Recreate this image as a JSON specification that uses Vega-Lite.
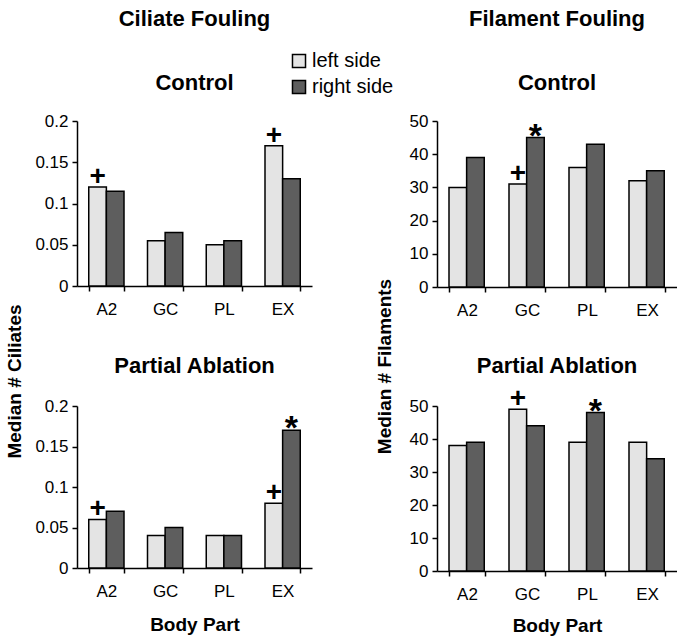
{
  "$schema": "https://vega.github.io/schema/vega-lite/v6.json",
  "padding": {"left": 5, "top": 8, "right": 0, "bottom": 2},
  "background": "white",
  "data": {"values": [
    {"fouling": "Ciliate", "treatment": "Control", "part": "A2", "side": "left side", "value": 0.12, "sig": "+"},
    {"fouling": "Ciliate", "treatment": "Control", "part": "A2", "side": "right side", "value": 0.115, "sig": ""},
    {"fouling": "Ciliate", "treatment": "Control", "part": "GC", "side": "left side", "value": 0.055, "sig": ""},
    {"fouling": "Ciliate", "treatment": "Control", "part": "GC", "side": "right side", "value": 0.065, "sig": ""},
    {"fouling": "Ciliate", "treatment": "Control", "part": "PL", "side": "left side", "value": 0.05, "sig": ""},
    {"fouling": "Ciliate", "treatment": "Control", "part": "PL", "side": "right side", "value": 0.055, "sig": ""},
    {"fouling": "Ciliate", "treatment": "Control", "part": "EX", "side": "left side", "value": 0.17, "sig": "+"},
    {"fouling": "Ciliate", "treatment": "Control", "part": "EX", "side": "right side", "value": 0.13, "sig": ""},
    {"fouling": "Ciliate", "treatment": "Partial Ablation", "part": "A2", "side": "left side", "value": 0.06, "sig": "+"},
    {"fouling": "Ciliate", "treatment": "Partial Ablation", "part": "A2", "side": "right side", "value": 0.07, "sig": ""},
    {"fouling": "Ciliate", "treatment": "Partial Ablation", "part": "GC", "side": "left side", "value": 0.04, "sig": ""},
    {"fouling": "Ciliate", "treatment": "Partial Ablation", "part": "GC", "side": "right side", "value": 0.05, "sig": ""},
    {"fouling": "Ciliate", "treatment": "Partial Ablation", "part": "PL", "side": "left side", "value": 0.04, "sig": ""},
    {"fouling": "Ciliate", "treatment": "Partial Ablation", "part": "PL", "side": "right side", "value": 0.04, "sig": ""},
    {"fouling": "Ciliate", "treatment": "Partial Ablation", "part": "EX", "side": "left side", "value": 0.08, "sig": "+"},
    {"fouling": "Ciliate", "treatment": "Partial Ablation", "part": "EX", "side": "right side", "value": 0.17, "sig": "*"},
    {"fouling": "Filament", "treatment": "Control", "part": "A2", "side": "left side", "value": 30, "sig": ""},
    {"fouling": "Filament", "treatment": "Control", "part": "A2", "side": "right side", "value": 39, "sig": ""},
    {"fouling": "Filament", "treatment": "Control", "part": "GC", "side": "left side", "value": 31, "sig": "+"},
    {"fouling": "Filament", "treatment": "Control", "part": "GC", "side": "right side", "value": 45, "sig": "*"},
    {"fouling": "Filament", "treatment": "Control", "part": "PL", "side": "left side", "value": 36, "sig": ""},
    {"fouling": "Filament", "treatment": "Control", "part": "PL", "side": "right side", "value": 43, "sig": ""},
    {"fouling": "Filament", "treatment": "Control", "part": "EX", "side": "left side", "value": 32, "sig": ""},
    {"fouling": "Filament", "treatment": "Control", "part": "EX", "side": "right side", "value": 35, "sig": ""},
    {"fouling": "Filament", "treatment": "Partial Ablation", "part": "A2", "side": "left side", "value": 38, "sig": ""},
    {"fouling": "Filament", "treatment": "Partial Ablation", "part": "A2", "side": "right side", "value": 39, "sig": ""},
    {"fouling": "Filament", "treatment": "Partial Ablation", "part": "GC", "side": "left side", "value": 49, "sig": "+"},
    {"fouling": "Filament", "treatment": "Partial Ablation", "part": "GC", "side": "right side", "value": 44, "sig": ""},
    {"fouling": "Filament", "treatment": "Partial Ablation", "part": "PL", "side": "left side", "value": 39, "sig": ""},
    {"fouling": "Filament", "treatment": "Partial Ablation", "part": "PL", "side": "right side", "value": 48, "sig": "*"},
    {"fouling": "Filament", "treatment": "Partial Ablation", "part": "EX", "side": "left side", "value": 39, "sig": ""},
    {"fouling": "Filament", "treatment": "Partial Ablation", "part": "EX", "side": "right side", "value": 34, "sig": ""}
  ]},
  "columns": 2,
  "bounds": "flush",
  "spacing": {"row": 119, "column": 125},
  "concat": [
    {
      "width": 235, "height": 165,
      "title": {"text": "Ciliate Fouling", "subtitle": "Control"},
      "transform": [{"filter": "datum.fouling === 'Ciliate' && datum.treatment === 'Control'"}],
      "encoding": {
        "x": {"field": "part", "type": "nominal", "sort": ["A2", "GC", "PL", "EX"], "scale": {"paddingInner": 0.4, "paddingOuter": 0.2}, "axis": {"title": null}},
        "xOffset": {"field": "side", "type": "nominal", "sort": ["left side", "right side"], "scale": {"paddingInner": 0, "paddingOuter": 0}},
        "y": {"field": "value", "type": "quantitative", "scale": {"domain": [0, 0.2]}, "axis": {"title": "Median # Ciliates", "titleY": 260, "titlePadding": 10, "values": [0, 0.05, 0.1, 0.15, 0.2], "format": "~g"}}
      },
      "layer": [
        {"mark": {"type": "bar", "stroke": "black", "strokeWidth": 1.5},
         "encoding": {"fill": {"field": "side", "type": "nominal", "scale": {"domain": ["left side", "right side"], "range": ["#e4e4e4", "#5e5e5e"]},
           "legend": {"orient": "none", "legendX": 212, "legendY": -70, "title": null, "symbolType": "square", "symbolSize": 170, "symbolStrokeColor": "black", "symbolStrokeWidth": 1.5, "labelFontSize": 20, "labelFont": "Liberation Sans", "labelColor": "black", "rowPadding": 6, "labelOffset": 3}}}},
        {"transform": [{"filter": "datum.sig === '+'"}], "mark": {"type": "text", "text": "+", "fontSize": 28, "fontWeight": "bold", "dy": -10, "color": "black"}, "encoding": {}},
        {"transform": [{"filter": "datum.sig === '*'"}], "mark": {"type": "text", "text": "*", "fontSize": 34, "fontWeight": "bold", "dy": -1, "color": "black"}, "encoding": {}}
      ]
    },
    {
      "width": 240, "height": 166,
      "title": {"text": "Filament Fouling", "subtitle": "Control"},
      "transform": [{"filter": "datum.fouling === 'Filament' && datum.treatment === 'Control'"}],
      "encoding": {
        "x": {"field": "part", "type": "nominal", "sort": ["A2", "GC", "PL", "EX"], "scale": {"paddingInner": 0.4, "paddingOuter": 0.2}, "axis": {"title": null}},
        "xOffset": {"field": "side", "type": "nominal", "sort": ["left side", "right side"], "scale": {"paddingInner": 0, "paddingOuter": 0}},
        "y": {"field": "value", "type": "quantitative", "scale": {"domain": [0, 50]}, "axis": {"title": "Median # Filaments", "titleY": 245, "titlePadding": 15, "values": [0, 10, 20, 30, 40, 50]}}
      },
      "layer": [
        {"mark": {"type": "bar", "stroke": "black", "strokeWidth": 1.5},
         "encoding": {"fill": {"field": "side", "type": "nominal", "scale": {"domain": ["left side", "right side"], "range": ["#e4e4e4", "#5e5e5e"]}}}},
        {"transform": [{"filter": "datum.sig === '+'"}], "mark": {"type": "text", "text": "+", "fontSize": 28, "fontWeight": "bold", "dy": -10, "color": "black"}, "encoding": {}},
        {"transform": [{"filter": "datum.sig === '*'"}], "mark": {"type": "text", "text": "*", "fontSize": 34, "fontWeight": "bold", "dy": -1, "color": "black"}, "encoding": {}}
      ]
    },
    {
      "width": 235, "height": 162,
      "title": {"text": "Partial Ablation", "offset": 19},
      "transform": [{"filter": "datum.fouling === 'Ciliate' && datum.treatment === 'Partial Ablation'"}],
      "encoding": {
        "x": {"field": "part", "type": "nominal", "sort": ["A2", "GC", "PL", "EX"], "scale": {"paddingInner": 0.4, "paddingOuter": 0.2}, "axis": {"title": "Body Part", "titlePadding": 16}},
        "xOffset": {"field": "side", "type": "nominal", "sort": ["left side", "right side"], "scale": {"paddingInner": 0, "paddingOuter": 0}},
        "y": {"field": "value", "type": "quantitative", "scale": {"domain": [0, 0.2]}, "axis": {"title": null, "values": [0, 0.05, 0.1, 0.15, 0.2], "format": "~g"}}
      },
      "layer": [
        {"mark": {"type": "bar", "stroke": "black", "strokeWidth": 1.5},
         "encoding": {"fill": {"field": "side", "type": "nominal", "scale": {"domain": ["left side", "right side"], "range": ["#e4e4e4", "#5e5e5e"]}}}},
        {"transform": [{"filter": "datum.sig === '+'"}], "mark": {"type": "text", "text": "+", "fontSize": 28, "fontWeight": "bold", "dy": -10, "color": "black"}, "encoding": {}},
        {"transform": [{"filter": "datum.sig === '*'"}], "mark": {"type": "text", "text": "*", "fontSize": 34, "fontWeight": "bold", "dy": -1, "color": "black"}, "encoding": {}}
      ]
    },
    {
      "width": 240, "height": 165,
      "title": {"text": "Partial Ablation", "offset": 7},
      "transform": [{"filter": "datum.fouling === 'Filament' && datum.treatment === 'Partial Ablation'"}],
      "encoding": {
        "x": {"field": "part", "type": "nominal", "sort": ["A2", "GC", "PL", "EX"], "scale": {"paddingInner": 0.4, "paddingOuter": 0.2}, "axis": {"title": "Body Part", "titlePadding": 14}},
        "xOffset": {"field": "side", "type": "nominal", "sort": ["left side", "right side"], "scale": {"paddingInner": 0, "paddingOuter": 0}},
        "y": {"field": "value", "type": "quantitative", "scale": {"domain": [0, 50]}, "axis": {"title": null, "values": [0, 10, 20, 30, 40, 50]}}
      },
      "layer": [
        {"mark": {"type": "bar", "stroke": "black", "strokeWidth": 1.5},
         "encoding": {"fill": {"field": "side", "type": "nominal", "scale": {"domain": ["left side", "right side"], "range": ["#e4e4e4", "#5e5e5e"]}}}},
        {"transform": [{"filter": "datum.sig === '+'"}], "mark": {"type": "text", "text": "+", "fontSize": 28, "fontWeight": "bold", "dy": -10, "color": "black"}, "encoding": {}},
        {"transform": [{"filter": "datum.sig === '*'"}], "mark": {"type": "text", "text": "*", "fontSize": 34, "fontWeight": "bold", "dy": -1, "color": "black"}, "encoding": {}}
      ]
    }
  ],
  "config": {
    "font": "Liberation Sans",
    "view": {"stroke": null},
    "axis": {"labelFont": "Liberation Sans", "labelFontSize": 17, "labelColor": "black", "domainColor": "black", "domainWidth": 1.5, "tickColor": "black", "tickWidth": 1.5, "tickSize": 5, "grid": false, "titleFont": "Liberation Sans", "titleFontSize": 19, "titleFontWeight": "bold", "titleColor": "black", "labelPadding": 4},
    "axisX": {"labelAngle": 0, "tickBand": "extent", "labelPadding": 10},
    "title": {"font": "Liberation Sans", "fontSize": 22, "fontWeight": "bold", "color": "black", "subtitleFont": "Liberation Sans", "subtitleFontSize": 22, "subtitleFontWeight": "bold", "subtitleColor": "black", "subtitlePadding": 42, "anchor": "middle", "offset": 17}
  }
}
